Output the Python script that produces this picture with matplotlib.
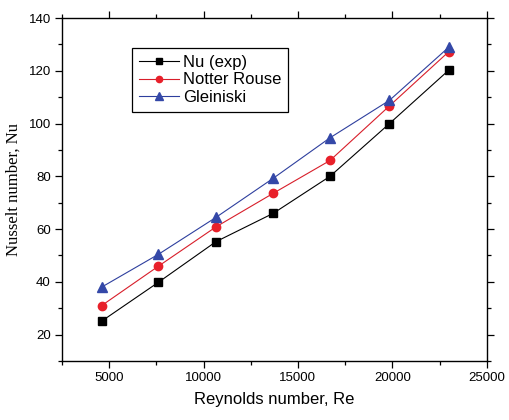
import matplotlib
matplotlib.use("Agg")
import matplotlib.pyplot as plt
from matplotlib.ticker import MultipleLocator

re_vals = [4600, 7600, 10650, 13700, 16700, 19850, 23000]
nu_exp = [25.1, 39.8, 55.2, 66.0, 80.0, 100.0, 120.3]
nu_notter = [31.0, 45.9, 60.8, 73.6, 86.0, 106.7, 127.3]
nu_glein = [38.0, 50.4, 64.4, 79.3, 94.6, 108.8, 129.0]
labels = ["Nu (exp)", "Notter Rouse", "Gleiniski"]

sans = ["Liberation Sans", "DejaVu Sans"]
serif = ["Liberation Serif", "DejaVu Serif"]

fig = plt.figure(figsize=(5.1, 4.2), dpi=100)
ax = fig.add_axes([62/510, 1-361/420, (486.7-62)/510, (361-18)/420])

ax.plot(re_vals, nu_exp, color="black", lw=0.8, marker="s", ms=5.5, label=labels[0])
ax.plot(re_vals, nu_notter, color="#d81e2a", lw=0.8, marker="o", ms=6, mfc="#e8202a", mec="#e8202a", label=labels[1])
ax.plot(re_vals, nu_glein, color="#2e3f9e", lw=0.8, marker="^", ms=7, mfc="#3448a8", mec="#3448a8", label=labels[2])

ax.set_xlim(2500, 25000)
ax.set_ylim(10, 140)
ax.xaxis.set_major_locator(MultipleLocator(5000))
ax.xaxis.set_minor_locator(MultipleLocator(2500))
ax.yaxis.set_major_locator(MultipleLocator(20))
ax.yaxis.set_minor_locator(MultipleLocator(10))
ax.set_yticks([20, 40, 60, 80, 100, 120, 140])

ax.tick_params(which="both", direction="out", top=True, right=True, width=0.9)
ax.tick_params(which="major", length=5, pad=3, labelsize=9.5)
ax.tick_params(which="minor", length=3)
for lab in ax.get_xticklabels() + ax.get_yticklabels():
    lab.set_family(sans)
for s in ax.spines.values():
    s.set_linewidth(1.0)

ax.set_xlabel("Reynolds number, Re", fontsize=12, family=sans, labelpad=6)
ax.set_ylabel("Nusselt number, Nu", fontsize=12, family=serif, labelpad=5)

leg = ax.legend(loc="upper left", bbox_to_anchor=(0.165, 0.912), prop={"family": sans, "size": 12},
                frameon=True, fancybox=False, edgecolor="black", framealpha=1,
                handlelength=2.4, handletextpad=0.25, labelspacing=0.15, borderpad=0.4,
                borderaxespad=0, markerscale=0.75)
leg.get_frame().set_linewidth(0.9)

fig.savefig("out.png", dpi=100)
